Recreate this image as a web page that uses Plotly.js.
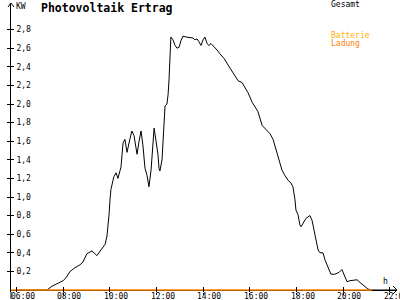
<!DOCTYPE html>
<html>
<head>
<meta charset="utf-8">
<script src="https://cdn.plot.ly/plotly-3.0.1.min.js"></script>
<style>html,body{margin:0;padding:0;background:#fff}#chart{width:400px;height:300px}</style>
</head>
<body>
<div id="chart"></div>
<script>
// Time of day in decimal hours
var hours = [6.0, 7.30, 7.51, 7.73, 7.99, 8.11, 8.29, 8.50, 8.71, 8.84, 9.01, 9.23, 9.44, 9.61, 9.79, 9.87, 9.91, 9.96, 10.00, 10.04, 10.13, 10.17, 10.26, 10.34, 10.47, 10.56, 10.64, 10.73, 10.86, 10.94, 11.03, 11.16, 11.24, 11.33, 11.41, 11.50, 11.59, 11.67, 11.76, 11.84, 11.89, 11.97, 12.06, 12.10, 12.14, 12.23, 12.27, 12.31, 12.36, 12.44, 12.49, 12.53, 12.57, 12.61, 12.70, 12.79, 12.87, 12.96, 13.04, 13.13, 13.26, 13.43, 13.56, 13.64, 13.73, 13.81, 13.90, 13.99, 14.07, 14.16, 14.24, 14.33, 14.46, 14.59, 14.71, 14.89, 15.01, 15.14, 15.27, 15.40, 15.49, 15.66, 15.79, 15.92, 16.09, 16.22, 16.34, 16.52, 16.60, 16.73, 16.86, 16.99, 17.12, 17.24, 17.37, 17.50, 17.63, 17.76, 17.84, 17.93, 17.97, 18.06, 18.14, 18.19, 18.27, 18.40, 18.57, 18.66, 18.79, 18.92, 19.00, 19.13, 19.22, 19.34, 19.47, 19.64, 19.82, 19.94, 20.03, 20.16, 20.29, 20.46, 20.59, 20.72, 20.89, 21.06, 21.23, 22.30];
// Gesamt (total) power in kW
var gesamt = [0, 0, 0.04, 0.065, 0.10, 0.13, 0.20, 0.24, 0.27, 0.30, 0.39, 0.42, 0.37, 0.43, 0.49, 0.58, 0.66, 0.81, 0.97, 1.08, 1.18, 1.22, 1.26, 1.20, 1.32, 1.58, 1.62, 1.48, 1.63, 1.71, 1.66, 1.46, 1.59, 1.71, 1.56, 1.31, 1.23, 1.11, 1.29, 1.61, 1.74, 1.61, 1.45, 1.31, 1.28, 1.40, 1.61, 1.88, 1.98, 2.00, 2.10, 2.26, 2.47, 2.72, 2.69, 2.63, 2.60, 2.61, 2.68, 2.73, 2.72, 2.71, 2.71, 2.69, 2.70, 2.67, 2.63, 2.69, 2.72, 2.65, 2.63, 2.65, 2.62, 2.58, 2.54, 2.49, 2.44, 2.39, 2.33, 2.28, 2.25, 2.23, 2.18, 2.12, 2.02, 1.97, 1.92, 1.77, 1.75, 1.71, 1.68, 1.62, 1.51, 1.40, 1.29, 1.23, 1.18, 1.15, 1.11, 0.97, 0.86, 0.81, 0.70, 0.68, 0.72, 0.77, 0.80, 0.75, 0.59, 0.43, 0.40, 0.40, 0.32, 0.24, 0.17, 0.17, 0.19, 0.22, 0.17, 0.09, 0.10, 0.11, 0.11, 0.08, 0.04, 0.01, 0, 0];
// Batterie Ladung (battery charging) in kW
var ladungHours = [5.76, 21.23];
var ladung = [0, 0];

var seriesNames = ["Gesamt", "Batterie", "Ladung"];
var xTickVals = [6, 8, 10, 12, 14, 16, 18, 20, 22];
var xTickText = ["06:00", "08:00", "10:00", "12:00", "14:00", "16:00", "18:00", "20:00", "22:00"];
var yTickVals = [0.2, 0.4, 0.6, 0.8, 1.0, 1.2, 1.4, 1.6, 1.8, 2.0, 2.2, 2.4, 2.6, 2.8];

var L = 11, R = 3, T = 3, B = 8, W = 400, H = 300;
var pw = W - L - R, ph = H - T - B;
function px(x) { return (x - L) / pw; }
function py(y) { return (H - B - y) / ph; }

var xr = [5.757, 22.302];
var yr = [-2 / 93, 287 / 93];
var mono = "DejaVu Sans Mono";

var traces = [
  {x: hours, y: gesamt, type: "scatter", mode: "lines", line: {color: "#000000", width: 1}, hoverinfo: "skip"},
  {x: ladungHours, y: ladung, type: "scatter", mode: "lines", line: {color: "#FF8000", width: 1.5}, hoverinfo: "skip"},
  {x: [xr[0]], y: [yr[0]], xaxis: "x2", yaxis: "y2", type: "scatter", mode: "markers", marker: {opacity: 0}, hoverinfo: "skip"}
];

var annotations = [
  {text: "<b>Photovoltaik Ertrag</b>", xref: "paper", yref: "paper", x: px(39), y: py(8), xanchor: "left", yanchor: "middle", showarrow: false, font: {family: mono, size: 11.5, color: "#000"}},
  {text: "KW", xref: "paper", yref: "paper", x: px(14), y: py(6), xanchor: "left", yanchor: "middle", showarrow: false, font: {family: mono, size: 8, color: "#000"}},
  {text: "h", xref: "paper", yref: "paper", x: px(385), y: py(281), xanchor: "center", yanchor: "middle", showarrow: false, font: {family: mono, size: 8, color: "#000"}},
  {text: seriesNames[0], xref: "paper", yref: "paper", x: px(329), y: py(5), xanchor: "left", yanchor: "middle", showarrow: false, font: {family: mono, size: 8, color: "#000"}},
  {text: seriesNames[1], xref: "paper", yref: "paper", x: px(329), y: py(36), xanchor: "left", yanchor: "middle", showarrow: false, font: {family: mono, size: 8, color: "#FFB000"}},
  {text: seriesNames[2], xref: "paper", yref: "paper", x: px(329), y: py(44), xanchor: "left", yanchor: "middle", showarrow: false, font: {family: mono, size: 8, color: "#FF8000"}}
];
// x tick labels placed through the x axis scale
xTickVals.forEach(function (v, i) {
  annotations.push({text: xTickText[i], xref: "x", yref: "paper", x: v, xshift: 6, y: py(296), xanchor: "center", yanchor: "middle", showarrow: false, font: {family: mono, size: 8, color: "#000"}});
});

var layout = {
  width: W, height: H,
  margin: {l: L, r: R, t: T, b: B},
  paper_bgcolor: "#ffffff", plot_bgcolor: "#ffffff",
  showlegend: false,
  separators: ",.",
  font: {family: mono, size: 8, color: "#000"},
  xaxis: {
    range: xr, showgrid: false, zeroline: false, showline: false,
    tickvals: xTickVals, showticklabels: false,
    ticks: "outside", ticklen: 2, tickcolor: "#000", tickwidth: 1
  },
  yaxis: {
    range: yr, showgrid: false, zeroline: true, zerolinecolor: "#000", zerolinewidth: 1,
    showline: true, linecolor: "#000", linewidth: 1,
    tickvals: yTickVals, tickformat: ".1f",
    ticks: "outside", ticklen: 3, tickcolor: "#000",
    ticklabelposition: "inside", ticklabelstandoff: 4,
    tickfont: {family: mono, size: 8, color: "#000"}
  },
  xaxis2: {
    range: xr, overlaying: "x", anchor: "y2", showgrid: false, zeroline: false, showline: false,
    tickvals: xTickVals, ticks: "inside", ticklen: 5, tickcolor: "#000", showticklabels: false
  },
  yaxis2: {
    range: yr, overlaying: "y", side: "left", showgrid: false, zeroline: false, showline: false,
    tickvals: yTickVals, ticks: "inside", ticklen: 3, tickcolor: "#000", showticklabels: false
  },
  annotations: annotations,
  shapes: [
    {type: "path", xref: "paper", yref: "paper", path: "M" + px(8) + "," + py(7) + " L" + px(11) + "," + py(3) + " L" + px(14) + "," + py(7), line: {color: "#000", width: 1}},
    {type: "path", xref: "paper", yref: "paper", path: "M" + px(393) + "," + py(286) + " L" + px(397) + "," + py(290) + " L" + px(393) + "," + py(294), line: {color: "#000", width: 1}},
    {type: "line", xref: "paper", yref: "paper", x0: 0, x1: 0, y0: py(292), y1: py(299), line: {color: "#000", width: 1}}
  ]
};

Plotly.newPlot("chart", traces, layout, {staticPlot: true, displayModeBar: false});
</script>
</body>
</html>
